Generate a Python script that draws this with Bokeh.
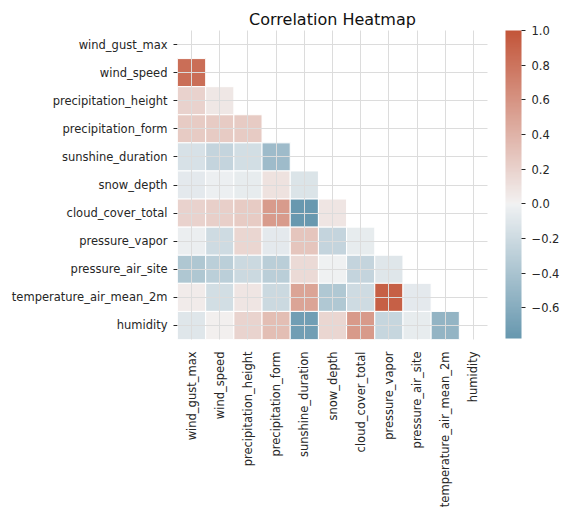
import math
from bokeh.plotting import figure
from bokeh.models import (LinearColorMapper, ColorBar, FixedTicker,
                          CustomJSTickFormatter, ColumnDataSource)
from bokeh.transform import transform
from bokeh.embed import file_html
from bokeh.resources import INLINE

# ---------------- data ----------------
names = ["wind_gust_max", "wind_speed", "precipitation_height",
         "precipitation_form", "sunshine_duration", "snow_depth",
         "cloud_cover_total", "pressure_vapor", "pressure_air_site",
         "temperature_air_mean_2m", "humidity"]

# lower triangle of the correlation matrix (row i, columns 0..i-1)
corr_wind_speed = [0.84]
corr_precipitation_height = [0.20, 0.07]
corr_precipitation_form = [0.25, 0.25, 0.25]
corr_sunshine_duration = [-0.14, -0.25, -0.17, -0.47]
corr_snow_depth = [-0.07, -0.02, -0.05, 0.10, -0.12]
corr_cloud_cover_total = [0.20, 0.22, 0.25, 0.55, -0.776, 0.08]
corr_pressure_vapor = [-0.03, -0.20, 0.18, -0.07, 0.28, -0.25, -0.05]
corr_pressure_air_site = [-0.37, -0.30, -0.21, -0.31, 0.15, -0.01, -0.25, -0.10]
corr_temperature_air_mean_2m = [0.04, -0.17, 0.08, -0.21, 0.50, -0.36, -0.20, 0.93, -0.07]
corr_humidity = [-0.10, 0.02, 0.19, 0.33, -0.72, 0.18, 0.56, -0.24, -0.05, -0.53]

lower_rows = [[], corr_wind_speed, corr_precipitation_height,
              corr_precipitation_form, corr_sunshine_duration, corr_snow_depth,
              corr_cloud_cover_total, corr_pressure_vapor,
              corr_pressure_air_site, corr_temperature_air_mean_2m,
              corr_humidity]

cbar_ticks = [-0.6, -0.4, -0.2, 0.0, 0.2, 0.4, 0.6, 0.8, 1.0]

# ---------------- colormap (seaborn diverging_palette(230, 20)) ----------------
M = [[3.240969941904521, -1.537383177570093, -0.498610760293],
     [-0.96924363628087, 1.87596750150772, 0.041555057407175],
     [0.055630079696993, -0.20397695888897, 1.056971514242878]]
REF_U = 0.19783000664283
REF_V = 0.46831999493879
KAPPA = 903.2962962
EPS = 0.0088564516


def _bounds(L):
    sub1 = (L + 16) ** 3 / 1560896
    sub2 = sub1 if sub1 > EPS else L / KAPPA
    out = []
    for m1, m2, m3 in M:
        for t in (0, 1):
            top1 = (284517 * m1 - 94839 * m3) * sub2
            top2 = (838422 * m3 + 769860 * m2 + 731718 * m1) * L * sub2 - 769860 * t * L
            bottom = (632260 * m3 - 126452 * m2) * sub2 + 126452 * t
            out.append((top1 / bottom, top2 / bottom))
    return out


def _max_chroma(L, H):
    hrad = math.radians(H)
    best = float("inf")
    for slope, intercept in _bounds(L):
        length = intercept / (math.sin(hrad) - slope * math.cos(hrad))
        if length >= 0:
            best = min(best, length)
    return best


def hsluv_to_rgb(H, S, L):
    C = _max_chroma(L, H) / 100 * S
    hrad = math.radians(H)
    U = math.cos(hrad) * C
    V = math.sin(hrad) * C
    var_u = U / (13 * L) + REF_U
    var_v = V / (13 * L) + REF_V
    Y = ((L + 16) / 116) ** 3 if L > 8 else L / KAPPA
    X = 0 - (9 * Y * var_u) / ((var_u - 4) * var_v - var_u * var_v)
    Z = (9 * Y - 15 * var_v * Y - var_v * X) / (3 * var_v)
    rgb = []
    for row in M:
        c = row[0] * X + row[1] * Y + row[2] * Z
        c = 12.92 * c if c <= 0.0031308 else 1.055 * c ** (1 / 2.4) - 0.055
        rgb.append(min(1.0, max(0.0, c)))
    return rgb


def lerp(a, b, t):
    return [a[k] + (b[k] - a[k]) * t for k in range(3)]


neg_end = hsluv_to_rgb(230, 75, 50)
neg_gray = hsluv_to_rgb(230, 75 * 0.15, 95)
pos_end = hsluv_to_rgb(20, 75, 50)
pos_gray = hsluv_to_rgb(20, 75 * 0.15, 95)
stops = ([lerp(neg_end, neg_gray, k / 127) for k in range(128)]
         + [[0.95, 0.95, 0.95]]
         + [lerp(pos_gray, pos_end, k / 127) for k in range(128)])


def cmap(pos):
    f = min(max(pos, 0.0), 1.0) * (len(stops) - 1)
    i = min(int(f), len(stops) - 2)
    return lerp(stops[i], stops[i + 1], f - i)


def to_hex(c):
    return "#%02x%02x%02x" % tuple(int(round(v * 255)) for v in c)


xs, ys, vs = [], [], []
for i, row in enumerate(lower_rows):
    for j, v in enumerate(row):
        xs.append(names[j])
        ys.append(names[i])
        vs.append(v)

vmin = min(vs)
vmax = 1.0
vrange = max(vmax, -vmin)
cmin = (vmin + vrange) / (2 * vrange)
cmax = (vmax + vrange) / (2 * vrange)
palette = [to_hex(cmap(cmin + (cmax - cmin) * k / 255)) for k in range(256)]
mapper = LinearColorMapper(palette=palette, low=vmin, high=vmax)

src = ColumnDataSource(dict(x=xs, y=ys, v=vs))

FONT = "DejaVu Sans"
TXT = "#262626"
FS = "11.5px"

p = figure(width=568, height=516,
           x_range=names, y_range=list(reversed(names)),
           output_backend="svg", toolbar_location=None,
           title="Correlation Heatmap",
           min_border_left=177, min_border_top=30, min_border_bottom=177,
           min_border_right=81)
p.rect(x="x", y="y", width=1, height=1, source=src,
       fill_color=transform("v", mapper), line_color="white", line_width=1)

p.title.align = "center"
p.title.text_font = FONT
p.title.text_font_size = "16px"
p.title.text_font_style = "normal"
p.title.text_color = "#111111"
p.title.standoff = 4
p.title.offset = 0

p.outline_line_color = None
p.background_fill_color = "white"
p.border_fill_color = "white"
for g in (p.xgrid, p.ygrid):
    g.grid_line_color = "#dcdcdc"
    g.grid_line_width = 1
    g.level = "annotation"

for ax in (p.xaxis, p.yaxis):
    ax.axis_line_color = None
    ax.minor_tick_line_color = None
    ax.major_label_text_font = FONT
    ax.major_label_text_font_size = FS
    ax.major_label_text_color = TXT
    ax.major_tick_in = 0

p.yaxis.major_tick_out = 4
p.yaxis.major_tick_line_color = TXT
p.yaxis.major_label_standoff = 6
p.xaxis.major_tick_out = 0
p.xaxis.major_tick_line_color = None
p.xaxis.major_label_orientation = math.pi / 2
p.xaxis.major_label_standoff = 12

cb = ColorBar(color_mapper=mapper, width=16, height=308,
              padding=0, margin=0, location=(328, 1),
              ticker=FixedTicker(ticks=cbar_ticks),
              formatter=CustomJSTickFormatter(
                  code="return tick.toFixed(1).replace('-', '\u2212');"),
              major_tick_in=0, major_tick_out=4,
              major_tick_line_color=TXT,
              major_label_text_font=FONT,
              major_label_text_font_size=FS,
              major_label_text_color=TXT,
              label_standoff=6,
              bar_line_color=None, border_line_color=None,
              background_fill_alpha=0)
p.add_layout(cb, "center")

open("out.html", "w").write(file_html(p, INLINE))
